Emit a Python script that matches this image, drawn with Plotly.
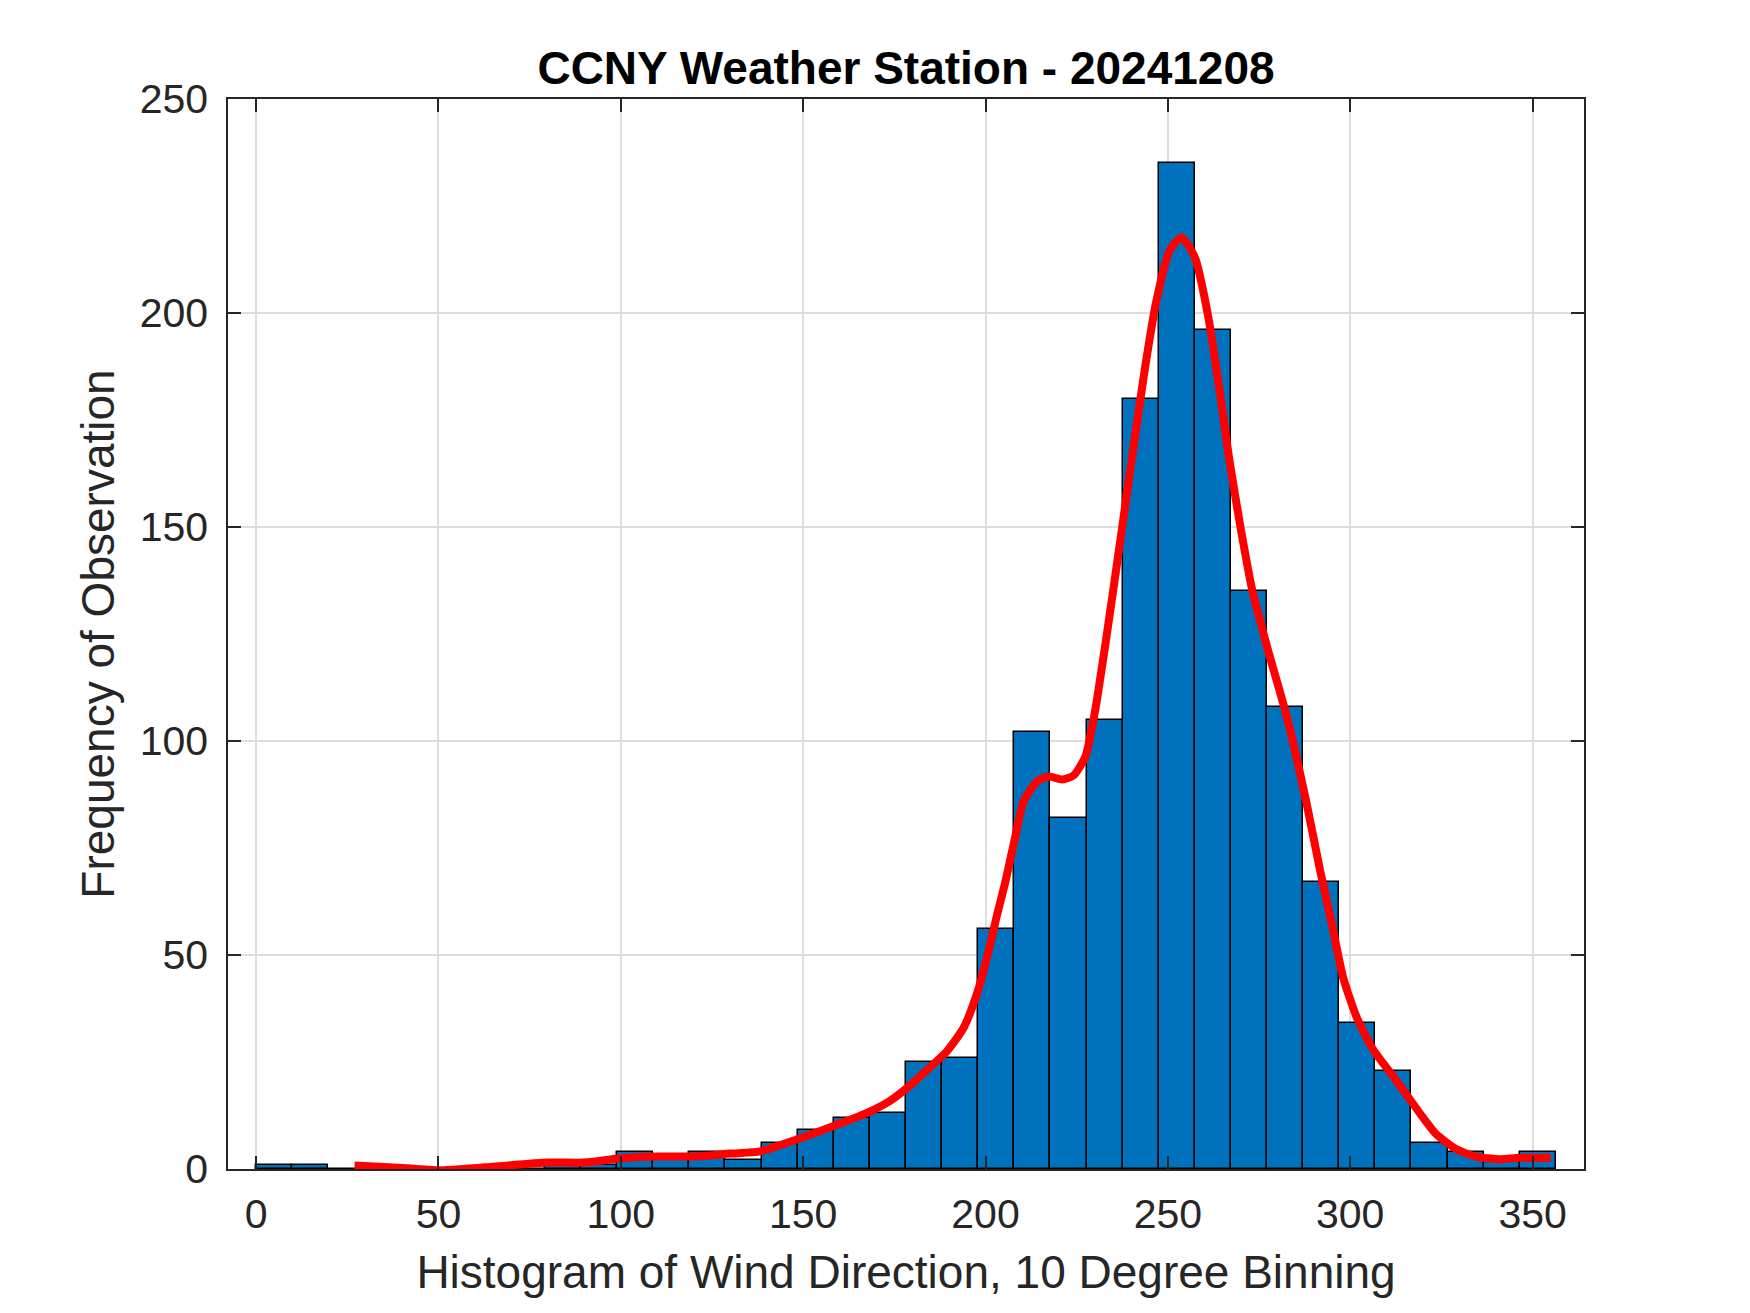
import numpy as np
import plotly.graph_objects as go

# ---------------- data ----------------
bin_start = 0.0
bin_width = 9.9
counts = [1, 1, 0, 0, 0, 0, 0, 0, 1, 1,
          4, 3, 4, 2, 6, 9, 12, 13, 25, 26,
          56, 102, 82, 105, 180, 235, 196, 135, 108, 67,
          34, 23, 6, 4, 2, 4]

curve_x = [27, 39, 50, 63, 80, 90, 100, 110, 121.8, 130, 138.2, 148.2, 158.2,
           167.5, 173.6, 179, 184, 189.4, 194, 197.6, 200.4, 203.2, 205.5, 208,
           210.5, 214.2, 217.4, 221, 224.2, 227.4, 230, 233.2, 237.4, 240.5,
           243.7, 246.8, 250.5, 253.7, 257.4, 261, 264.2, 266.8, 270, 273.2,
           277.4, 282.6, 287.9, 291.7, 295.3, 298, 301.7, 306.2, 312.7,
           319.2, 323.5, 329, 334.4, 340.9, 346.3, 352.8, 355]
curve_y = [0.8, 0.3, -0.3, 0.4, 1.5, 1.5, 2.5, 2.9, 3.0, 3.6, 4.1, 6.9, 10,
           13.1, 15.8, 19.3, 23.2, 27.5, 33, 40.8, 49.4, 59.5, 67.3, 77,
           86, 90.6, 91.7, 91, 92, 96.4, 106.8, 124.5, 149.5, 168.2,
           187, 202.6, 214.6, 217.7, 213, 199.5, 181.8, 166, 149.5, 135,
           121.4, 105.7, 86, 69.9, 55.9, 44.9, 35.6, 28, 20.6,
           12.9, 8.2, 4.7, 2.9, 2.3, 2.6, 2.6, 2.7]

x_ticks = [0, 50, 100, 150, 200, 250, 300, 350]
y_ticks = [0, 50, 100, 150, 200, 250]

title_text = "CCNY Weather Station - 20241208"
x_label = "Histogram of Wind Direction, 10 Degree Binning"
y_label = "Frequency of Observation"

# ---------------- figure ----------------
centers = [bin_start + bin_width * (i + 0.5) for i in range(len(counts))]

FONT = "Liberation Sans, Arial, Helvetica, sans-serif"
AXC = "#262626"

fig = go.Figure()
fig.add_trace(go.Bar(
    x=centers, y=counts, width=bin_width,
    marker=dict(color="#0072BD", line=dict(color="black", width=1.5)),
    showlegend=False,
))
fig.add_trace(go.Scatter(
    x=curve_x, y=curve_y, mode="lines",
    line=dict(color="#FF0000", width=8, shape="spline", smoothing=0.6),
    showlegend=False,
))

axis_common = dict(
    showline=True, linecolor=AXC, linewidth=1.5, mirror="ticks",
    ticks="inside", ticklen=13, tickwidth=1.5, tickcolor=AXC,
    showgrid=True, gridcolor="#dedede", gridwidth=1.5,
    zeroline=False,
    tickfont=dict(family=FONT, size=41, color=AXC),
    title_font=dict(family=FONT, size=46, color=AXC),
)

fig.update_xaxes(
    range=[-7.7, 364.1], tickvals=x_ticks, ticktext=[str(v) for v in x_ticks],
    title_text=x_label, title_standoff=20, ticklabelstandoff=8,
    **axis_common,
)
fig.update_yaxes(
    range=[0, 250], tickvals=y_ticks, ticktext=[str(v) for v in y_ticks],
    title_text=y_label, title_standoff=11, ticklabelstandoff=10,
    **axis_common,
)

fig.update_layout(
    width=1742, height=1305,
    margin=dict(l=220, r=166, t=91, b=144),
    plot_bgcolor="white", paper_bgcolor="white",
    bargap=0,
    title=dict(text="<b>" + title_text + "</b>", x=0.5, xref="paper",
               y=1 - 60 / 1305, yref="container", yanchor="middle",
               xanchor="center",
               font=dict(family=FONT, size=46, color="black")),
)

fig.write_html("out.html")
